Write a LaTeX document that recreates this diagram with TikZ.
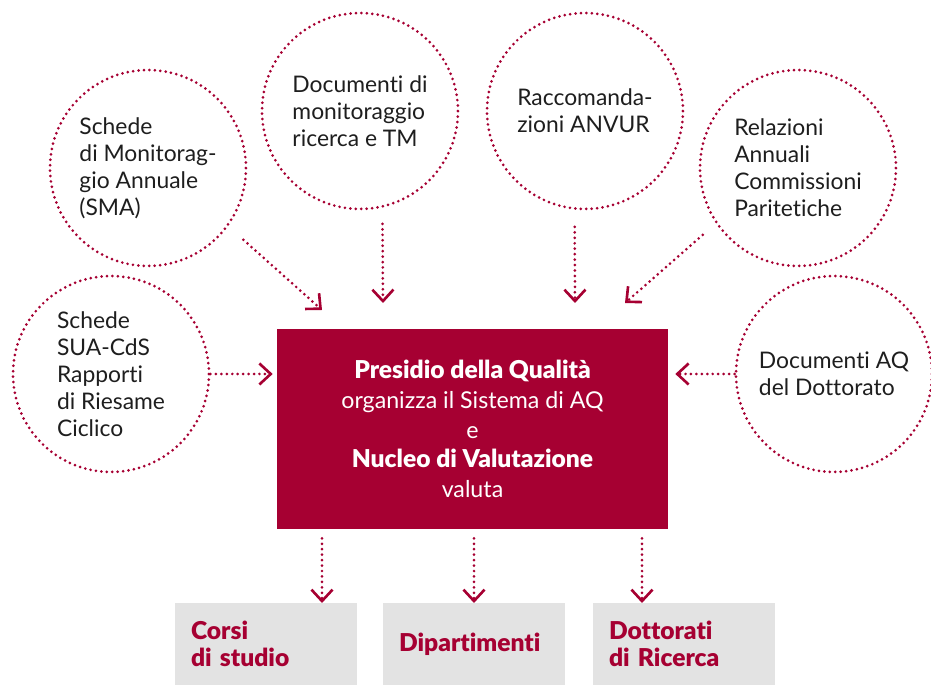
\documentclass[tikz,border=0pt]{standalone}
\usepackage{fontspec}
\setmainfont{Lato}[BoldFont={* Black},Ligatures=NoCommon]
\usepackage{tikz}
\usetikzlibrary{arrows.meta}
\definecolor{unired}{RGB}{166,0,50}
\definecolor{boxgray}{RGB}{227,227,227}
\definecolor{textdark}{RGB}{30,30,30}

\begin{document}
\begin{tikzpicture}[x=0.02cm,y=-0.02cm]
	\useasboundingbox (0,0) rectangle (931,685);
	\begin{scope}[every node/.style = {circle, draw=unired, line width=1.7pt,
			dash pattern=on 0pt off 3.1pt, line cap=round, minimum size=3.92cm,
			inner sep=0pt, text=textdark, align=left,
			font=\fontsize{13}{15.3}\selectfont}]
		\node (sma) at (148,168) {Schede\\di Monitorag-\\gio Annuale\\(SMA)};
		\node (doc) at (360,111) {Documenti di\\monitoraggio\\ricerca e TM};
		\node (anvur) at (585,111) {Raccomanda-\\zioni ANVUR};
		\node (cpds) at (798,168) {Relazioni\\Annuali\\Commissioni\\Paritetiche};
		\node (sua) at (111,374) {Schede\\SUA-CdS\\Rapporti\\di Riesame\\Ciclico};
		\node (dott) at (834,374) {Documenti AQ\\del Dottorato};
	\end{scope}
	\begin{scope}[every node/.style = {fill=unired, text=white, minimum width=7.82cm,
			minimum height=4cm, align=center, font=\fontsize{13.2}{16.9}\selectfont}]
		\node (pq) at (472.5,429) {\textbf{\fontsize{14}{16.9}\selectfont Presidio della Qualità}\\organizza il Sistema di AQ\\e\\\textbf{\fontsize{14}{16.9}\selectfont Nucleo di Valutazione}\\valuta};
	\end{scope}
	\begin{scope}[every node/.style = {fill=boxgray, text=unired, minimum height=1.64cm,
			text width=3.0cm, inner xsep=0.32cm, align=left,
			font=\bfseries\fontsize{14}{15.3}\selectfont}]
		\node (cds) at (266,644) {Corsi\\di studio};
		\node (dip) at (474,644) {Dipartimenti};
		\node (dr) at (684,644) {Dottorati\\di Ricerca};
	\end{scope}
	\coordinate (t1) at (322,310);
	\coordinate (t2) at (383,303);
	\coordinate (t3) at (575,303);
	\coordinate (t4) at (625,303);
	\coordinate (b1) at (322,603);
	\coordinate (b2) at (474,603);
	\coordinate (b3) at (642,603);
	\begin{scope}[>={Straight Barb[length=6.5pt, width=12pt, line width=1.5pt]},
			every edge/.style={draw=unired, line width=1.7pt,
			dash pattern=on 0pt off 3.1pt, line cap=round}]
		\path [->, shorten <=0.4cm] (sma.-36) edge (t1);
		\path [->, shorten <=0.32cm] (doc.-77) edge (t2);
		\path [->, shorten <=0.34cm] (anvur.-96) edge (t3);
		\path [->, shorten <=0.34cm] (cpds.-146) edge (t4);
		\path [->, shorten >=0.08cm] (sua.east) edge (sua.east -| pq.west);
		\path [->, shorten >=0.14cm] (dott.west) edge (dott.west -| pq.east);
		\path [->, shorten <=0.18cm] (b1 |- pq.south) edge (b1);
		\path [->, shorten <=0.18cm] (b2 |- pq.south) edge (b2);
		\path [->, shorten <=0.18cm] (b3 |- pq.south) edge (b3);
	\end{scope}
\end{tikzpicture}
\end{document}
